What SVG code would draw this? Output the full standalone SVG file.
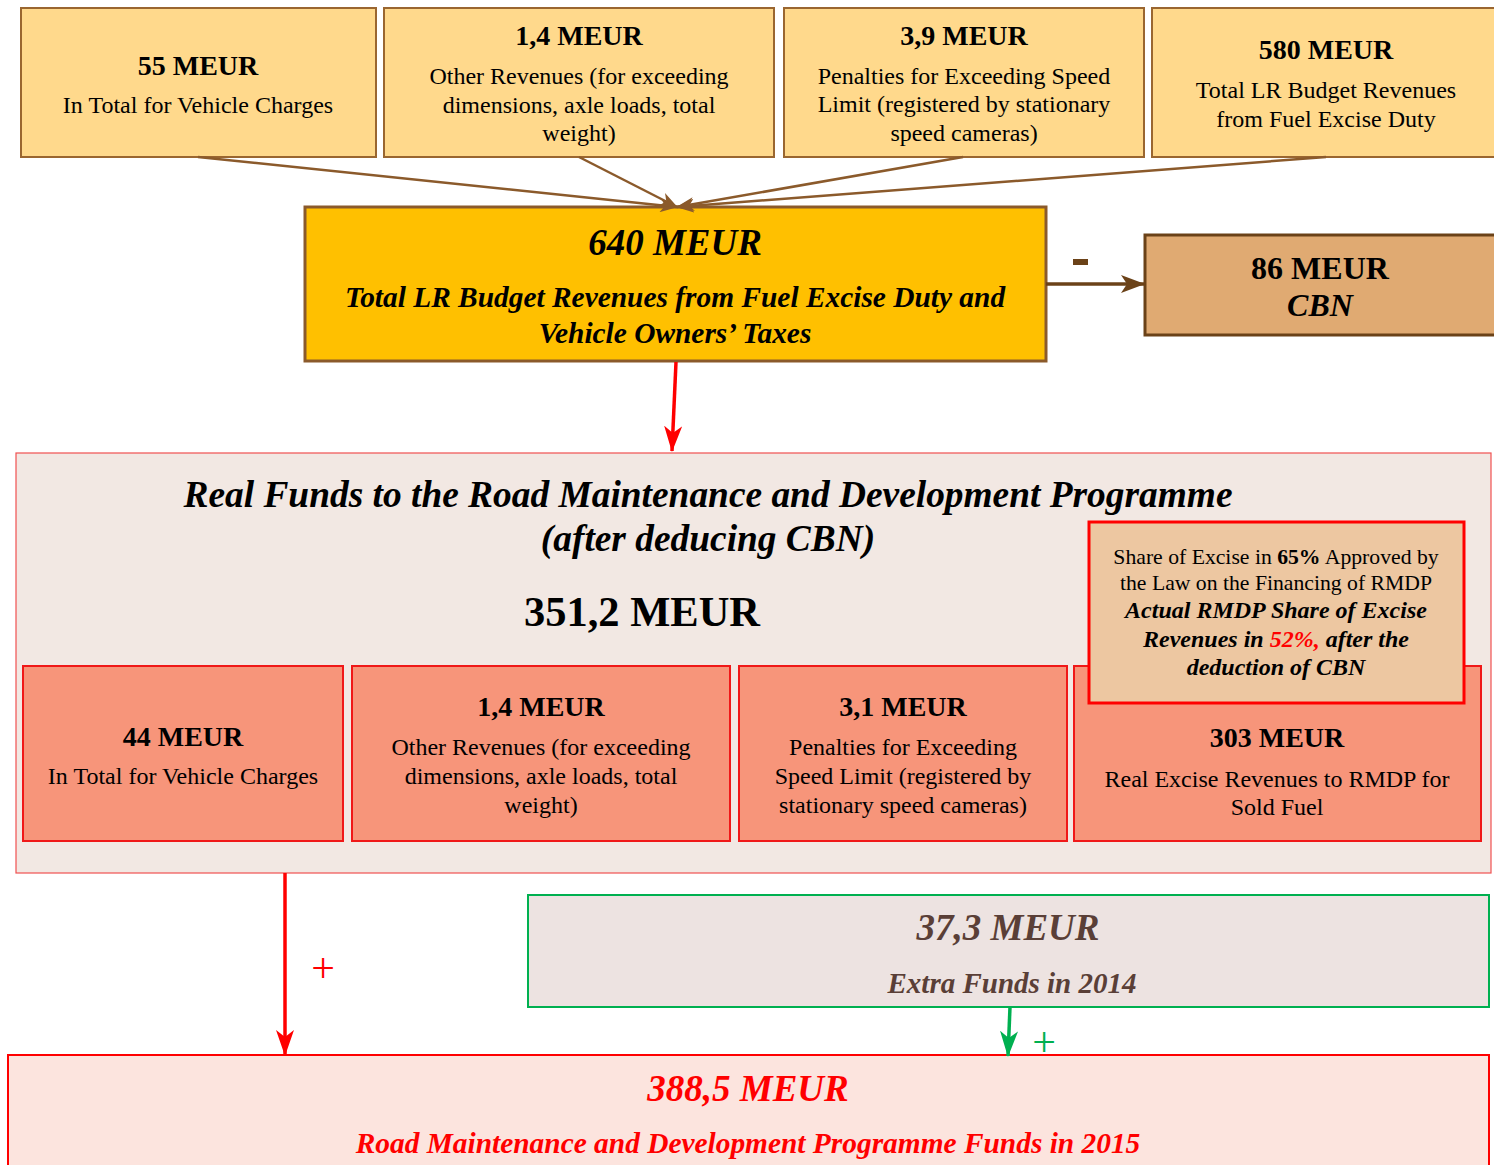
<svg xmlns="http://www.w3.org/2000/svg" width="1494" height="1165" viewBox="0 0 1494 1165">
<style>
text{font-family:"Liberation Serif","Times New Roman",serif;text-anchor:middle;fill:#000}
.top{fill:#FFD98C;stroke:#9A6630;stroke-width:2}
.sub{fill:#F7957A;stroke:#F01818;stroke-width:2}
.b{font-weight:bold}
.bi{font-weight:bold;font-style:italic}
.t22{font-size:24px}
.t26{font-size:28px}
.red{fill:#FF0000}
</style>
<defs>
<marker id="ab" viewBox="0 0 18 14" refX="17" refY="7" markerWidth="18" markerHeight="14" markerUnits="userSpaceOnUse" orient="auto"><path d="M0,0 L18,7 L0,14 L5,7 Z" fill="#8B5A2B"/></marker>
<marker id="ab2" viewBox="0 0 24 18" refX="23" refY="9" markerWidth="24" markerHeight="18" markerUnits="userSpaceOnUse" orient="auto"><path d="M0,0 L24,9 L0,18 L6,9 Z" fill="#6B4218"/></marker>
<marker id="ar" viewBox="0 0 26 18" refX="25" refY="9" markerWidth="26" markerHeight="18" markerUnits="userSpaceOnUse" orient="auto"><path d="M0,0 L26,9 L0,18 L7,9 Z" fill="#FF0000"/></marker>
<marker id="ag" viewBox="0 0 26 18" refX="25" refY="9" markerWidth="26" markerHeight="18" markerUnits="userSpaceOnUse" orient="auto"><path d="M0,0 L26,9 L0,18 L7,9 Z" fill="#00B050"/></marker>
</defs>

<g id="n-vehicle-charges">
<rect class="top" x="21" y="8" width="355" height="149"/>
<text class="b t26" x="198" y="75">55 MEUR</text>
<text class="t22" x="198" y="113">In Total for Vehicle Charges</text>
</g>
<g id="n-other-revenues">
<rect class="top" x="384" y="8" width="390" height="149"/>
<text class="b t26" x="579" y="45">1,4 MEUR</text>
<text class="t22" x="579" y="84">Other Revenues (for exceeding</text>
<text class="t22" x="579" y="113">dimensions, axle loads, total</text>
<text class="t22" x="579" y="141">weight)</text>
</g>
<g id="n-penalties">
<rect class="top" x="784" y="8" width="360" height="149"/>
<text class="b t26" x="964" y="45">3,9 MEUR</text>
<text class="t22" x="964" y="84">Penalties for Exceeding Speed</text>
<text class="t22" x="964" y="112">Limit (registered by stationary</text>
<text class="t22" x="964" y="141">speed cameras)</text>
</g>
<g id="n-fuel-excise">
<rect class="top" x="1152" y="8" width="346" height="149"/>
<text class="b t26" x="1326" y="59">580 MEUR</text>
<text class="t22" x="1326" y="98">Total LR Budget Revenues</text>
<text class="t22" x="1326" y="127">from Fuel Excise Duty</text>
</g>

<g id="n-total">
<rect x="305" y="207" width="741" height="154" fill="#FFC000" stroke="#8B5A2B" stroke-width="3"/>
<text class="bi" font-size="37" x="675" y="255">640 MEUR</text>
<text class="bi" font-size="29.4" x="675" y="307">Total LR Budget Revenues from Fuel Excise Duty and</text>
<text class="bi" font-size="29.4" x="675" y="343">Vehicle Owners’ Taxes</text>
</g>

<g id="n-cbn">
<rect x="1145" y="235" width="355" height="100" fill="#E0AA72" stroke="#6B4218" stroke-width="3"/>
<text class="b" font-size="32" x="1320" y="279">86 MEUR</text>
<text class="bi" font-size="32" x="1320" y="316">CBN</text>
</g>

<g id="n-real-funds">
<rect x="16" y="453" width="1475" height="420" fill="#F2E8E3" stroke="#F05050" stroke-width="1.2"/>
<text class="bi" font-size="37.4" x="708" y="507">Real Funds to the Road Maintenance and Development Programme</text>
<text class="bi" font-size="37.4" x="708" y="551">(after deducing CBN)</text>
<text class="b" font-size="42.5" x="642" y="626">351,2 MEUR</text>
</g>

<g id="n-sub-vehicle">
<rect class="sub" x="23" y="666" width="320" height="175"/>
<text class="b t26" x="183" y="746">44 MEUR</text>
<text class="t22" x="183" y="784">In Total for Vehicle Charges</text>
</g>
<g id="n-sub-other">
<rect class="sub" x="352" y="666" width="378" height="175"/>
<text class="b t26" x="541" y="716">1,4 MEUR</text>
<text class="t22" x="541" y="755">Other Revenues (for exceeding</text>
<text class="t22" x="541" y="784">dimensions, axle loads, total</text>
<text class="t22" x="541" y="813">weight)</text>
</g>
<g id="n-sub-penalties">
<rect class="sub" x="739" y="666" width="328" height="175"/>
<text class="b t26" x="903" y="716">3,1 MEUR</text>
<text class="t22" x="903" y="755">Penalties for Exceeding</text>
<text class="t22" x="903" y="784">Speed Limit (registered by</text>
<text class="t22" x="903" y="813">stationary speed cameras)</text>
</g>
<g id="n-sub-excise">
<rect class="sub" x="1074" y="666" width="407" height="175"/>
<text class="b t26" x="1277" y="747">303 MEUR</text>
<text class="t22" x="1277" y="787">Real Excise Revenues to RMDP for</text>
<text class="t22" x="1277" y="815">Sold Fuel</text>
</g>

<g id="n-share-note">
<rect x="1089" y="522" width="375" height="181" fill="#EDC7A1" stroke="#FF0000" stroke-width="3"/>
<text font-size="21.7" x="1276" y="564">Share of Excise in  <tspan font-weight="bold">65%</tspan> Approved by</text>
<text font-size="21.7" x="1276" y="590">the Law on the Financing of RMDP</text>
<text class="bi" font-size="24" x="1276" y="618">Actual RMDP Share of Excise</text>
<text class="bi" font-size="24" x="1276" y="647">Revenues in <tspan class="red">52%,</tspan> after the</text>
<text class="bi" font-size="24" x="1276" y="675">deduction of CBN</text>
</g>

<g id="n-extra">
<rect x="528" y="895" width="961" height="112" fill="#EDE3E1" stroke="#00B050" stroke-width="2"/>
<text class="bi" font-size="37" x="1008" y="940" style="fill:#5A3F37">37,3 MEUR</text>
<text class="bi" font-size="29" x="1012" y="993" style="fill:#5A3F37">Extra Funds in 2014</text>
</g>

<g id="n-2015">
<rect x="8" y="1055" width="1481" height="115" fill="#FCE4DE" stroke="#FF0000" stroke-width="2"/>
<text class="bi red" font-size="37" x="748" y="1101">388,5 MEUR</text>
<text class="bi red" font-size="29.4" x="748" y="1153">Road Maintenance and Development Programme Funds in 2015</text>
</g>

<g id="connectors" fill="none">
<line x1="198" y1="157" x2="677" y2="207" stroke="#8B5A2B" stroke-width="2.5" marker-end="url(#ab)"/>
<line x1="579" y1="157" x2="677" y2="207" stroke="#8B5A2B" stroke-width="2.5" marker-end="url(#ab)"/>
<line x1="963" y1="157" x2="677" y2="207" stroke="#8B5A2B" stroke-width="2.5" marker-end="url(#ab)"/>
<line x1="1326" y1="157" x2="677" y2="207" stroke="#8B5A2B" stroke-width="2.5" marker-end="url(#ab)"/>
<line x1="1046" y1="284" x2="1144" y2="284" stroke="#6B4218" stroke-width="3.5" marker-end="url(#ab2)"/>
<rect x="1073" y="259" width="15" height="6" fill="#6B4218"/>
<line x1="676" y1="362" x2="672" y2="451" stroke="#FF0000" stroke-width="3.5" marker-end="url(#ar)"/>
<line x1="285" y1="873" x2="285" y2="1055" stroke="#FF0000" stroke-width="3.5" marker-end="url(#ar)"/>
<text x="323" y="982" font-size="42" class="red">+</text>
<line x1="1010" y1="1007" x2="1008" y2="1056" stroke="#00B050" stroke-width="3.5" marker-end="url(#ag)"/>
<text x="1044" y="1056" font-size="42" style="fill:#00B050">+</text>
</g>
</svg>
